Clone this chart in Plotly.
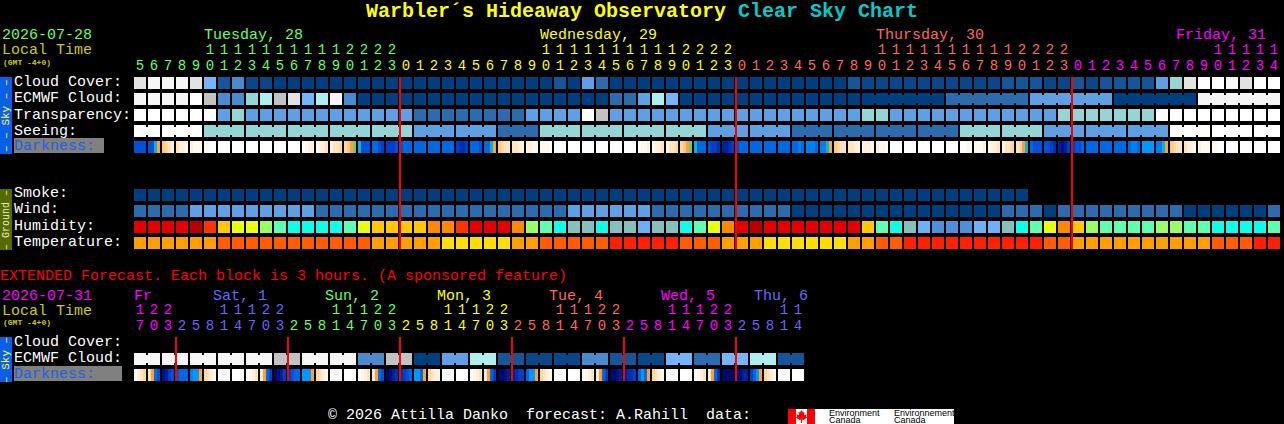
import plotly.graph_objects as go

W, H = 1284, 424

# ---------- palettes (levels used by the data below) ----------
cloud_colors = ["#003f7f", "#0a4788", "#165698", "#2c6bae", "#4a8bd0", "#5f9fe4", "#75b4f8",
                "#95d5d5", "#aeeeee", "#c2c2c2", "#e2e2e2", "#f6f6f6", "#ffffff"]
humidity_colors = ["#b80000", "#e50000", "#ff3300", "#ff8800", "#ffc800", "#eaff10", "#9aff66",
                   "#5effb0", "#0dffe9", "#86c0bc", "#70aef8", "#4d8fd8"]
temperature_colors = ["#ffdf00", "#ffa000", "#ff5d00", "#ff2000"]
darkness_colors = {"W": "#ffffff", "a": "#fff8ee", "c": "#fff0dc", "d": "#ffe4c0", "e": "#ffd8a0",
                   "f": "#ffc878", "o": "#ffa030", "g": "#7fc080", "t": "#10b0d0", "S": "#0098ff",
                   "B": "#0080f0", "b": "#0068e0", "m": "#0050d8", "n": "#0040c8", "p": "#0030b0",
                   "q": "#002098", "N": "#001080", "k": "#000868"}

# ---------- data ----------
main_hours = [5, 6, 7, 8, 9, 10, 11, 12, 13, 14, 15, 16, 17, 18, 19, 20, 21, 22, 23,
              0, 1, 2, 3, 4, 5, 6, 7, 8, 9, 10, 11, 12, 13, 14, 15, 16, 17, 18, 19, 20, 21, 22, 23,
              0, 1, 2, 3, 4, 5, 6, 7, 8, 9, 10, 11, 12, 13, 14, 15, 16, 17, 18, 19, 20, 21, 22, 23,
              0, 1, 2, 3, 4, 5, 6, 7, 8, 9, 10, 11, 12, 13, 14]
ext_hours = [17, 20, 23,
             2, 5, 8, 11, 14, 17, 20, 23,
             2, 5, 8, 11, 14, 17, 20, 23,
             2, 5, 8, 11, 14, 17, 20, 23,
             2, 5, 8, 11, 14, 17, 20, 23,
             2, 5, 8, 11, 14, 17, 20, 23,
             2, 5, 8, 11, 14]

main_day_labels = ["Tuesday, 28", "Wednesday, 29", "Thursday, 30", "Friday, 31"]
ext_day_labels = ["Fr", "Sat, 1", "Sun, 2", "Mon, 3", "Tue, 4", "Wed, 5", "Thu, 6"]

cloud_cover = [10, 11, 11, 11, 10, 6, 2, 4, 1, 1,
               0, 0, 0, 0, 0, 0, 0, 0, 0, 0,
               0, 0, 0, 0, 0, 0, 0, 0, 0, 0,
               2, 0, 5, 3, 0, 0, 0, 0, 0, 0,
               0, 0, 0, 0, 0, 0, 0, 0, 0, 0,
               0, 2, 1, 1, 1, 1, 1, 1, 1, 1,
               1, 1, 2, 2, 2, 1, 1, 2, 1, 2,
               2, 2, 2, 5, 7, 10, 12, 12, 11, 10, 12, 12]
ecmwf_cloud = [11, 11, 11, 11, 12, 9, 4, 4, 7, 8,
               9, 10, 6, 8, 11, 4, 0, 0, 0, 0,
               0, 0, 0, 0, 0, 0, 0, 0, 0, 0,
               0, 0, 0, 0, 3, 3, 5, 8, 6, 0,
               0, 0, 0, 0, 0, 0, 0, 0, 0, 0,
               0, 0, 0, 0, 0, 0, 0, 0, 3, 3,
               3, 3, 3, 3, 5, 5, 5, 5, 5, 5,
               0, 0, 0, 0, 0, 0, 11, 11, 11, 11, 11, 11]
ecmwf_blocks = [1] * 52 + [6] * 5
transparency = [12, 12, 12, 12, 12, 12, 5, 7, 5, 5,
                5, 5, 5, 5, 5, 5, 5, 5, 5, 5,
                3, 3, 3, 3, 3, 3, 3, 3, 5, 5,
                5, 5, 12, 9, 5, 5, 5, 5, 5, 5,
                5, 5, 5, 5, 5, 5, 5, 5, 5, 5,
                5, 5, 7, 7, 5, 5, 5, 5, 5, 5,
                5, 5, 5, 5, 5, 5, 7, 7, 7, 7,
                7, 7, 7, 12, 12, 12, 12, 12, 12, 12, 12, 12]
seeing = [12, 12, 12, 12, 12, 7, 7, 7, 7, 7,
          7, 7, 7, 7, 7, 7, 7, 7, 7, 7,
          5, 5, 5, 5, 5, 5, 3, 3, 3, 7,
          7, 7, 7, 7, 7, 7, 7, 7, 7, 7,
          7, 5, 5, 5, 5, 5, 5, 3, 3, 3,
          3, 3, 3, 3, 3, 3, 3, 3, 3, 7,
          7, 7, 7, 7, 7, 5, 5, 5, 5, 5,
          5, 5, 5, 5, 12, 12, 12, 12, 12, 12, 12, 12]
seeing_blocks = [2] + [3] * 26 + [2]
darkness = ["mmmm", "mmto", "fedc", "dcca", "caaa", "aaWW", "WWWW", "WWWW", "WWWW", "WWWW",
            "WWWW", "WWWW", "Wacc", "accd", "cdde", "efog", "tmmm", "bbmn", "nnnm", "mbbb",
            "bbbb", "bbbb", "bbbb", "nppn", "bbbm", "bbto", "fedd", "ddcc", "ccaa", "aaaW",
            "WWWW", "WWWW", "WWWW", "WWWW", "WWWW", "WWWW", "Waac", "accd", "cdde", "efog",
            "tbbb", "mnnp", "qqpn", "mbbb", "bbbb", "bbbb", "bbbb", "bbBb", "BBBb", "BBto",
            "fedd", "ddcc", "ccca", "caaW", "WWWW", "WWWW", "WWWW", "WWWW", "WWWW", "WWaa",
            "aaac", "accd", "cdde", "deot", "bmmm", "mmnp", "qNqn", "nmmb", "bbbb", "bbbb",
            "bbbb", "bBBb", "SSSS", "BBto", "fedd", "dcca", "caaa", "aaWW", "WWWW", "WWWW",
            "WWWW", "WWWW"]
smoke = [0] * 64 + [None] * 18
wind = [3, 3, 3, 3, 5, 5, 5, 5, 5, 5,
        5, 5, 5, 3, 3, 3, 3, 3, 3, 3,
        3, 3, 3, 3, 3, 3, 3, 3, 3, 3,
        3, 5, 5, 5, 5, 5, 5, 3, 3, 3,
        3, 3, 3, 3, 3, 3, 3, 0, 0, 0,
        0, 0, 0, 0, 0, 0, 0, 0, 0, 0,
        0, 0, 3, 3, 3, 0, 3, 3, 3, 3,
        3, 3, 3, 3, 3, 0, 0, 0, 0, 0, 0, 3]
humidity = [1, 1, 1, 1, 0, 2, 4, 5, 5, 6,
            7, 8, 8, 8, 8, 7, 5, 4, 4, 4,
            4, 3, 3, 2, 1, 1, 1, 3, 6, 7,
            8, 9, 9, 8, 9, 9, 10, 9, 9, 8,
            7, 5, 3, 1, 0, 1, 1, 1, 1, 1,
            1, 1, 4, 7, 8, 9, 10, 11, 11, 11,
            10, 10, 9, 8, 7, 5, 3, 4, 6, 7,
            7, 7, 7, 6, 6, 7, 7, 8, 8, 8, 8, 7]
temperature = [1, 1, 1, 1, 1, 1, 2, 2, 2, 2,
               2, 2, 2, 2, 2, 2, 2, 1, 1, 1,
               1, 1, 0, 0, 0, 0, 0, 1, 1, 2,
               2, 2, 2, 2, 3, 3, 3, 3, 3, 2,
               2, 2, 1, 1, 1, 0, 0, 0, 0, 0,
               0, 1, 1, 2, 2, 3, 3, 3, 3, 3,
               3, 3, 3, 3, 3, 2, 2, 1, 1, 1,
               1, 1, 1, 1, 1, 1, 1, 2, 2, 2, 3, 3]

ext_ecmwf = [11, 11, 11, 11, 11, 11, 11, 11, 11, 11, 9, 9, 11, 11, 11, 11,
             4, 4, 9, 9, 0, 0, 5, 5, 8, 8, 2, 2, 1, 1, 1, 1,
             4, 4, 2, 2, 1, 1, 6, 6, 3, 3, 6, 6, 8, 8, 2, 2]
ext_ecmwf_blocks = [2] * 24
ext_darkness = ["Wcde", "dobm", "Nqnm", "mbbb", "BSSo", "edca", "WWWW", "WWWW",
                "Wacd", "cobn", "kNqn", "nmbb", "SSSo", "edca", "WWWW", "WWWW",
                "Wacd", "cobm", "kNqp", "pnmb", "SSbo", "edcc", "WWWW", "WWWW",
                "Wacd", "cobn", "kkNq", "qpnn", "bSSo", "edca", "WWWW", "WWWW",
                "Wacd", "cobn", "kkNq", "qppn", "bSbo", "edca", "WWWW", "WWWW",
                "Wacd", "cobp", "kkkk", "NNqq", "nbSo", "edca", "WWWW", "WWWW"]

# ---------- scales: one axis unit is one cell slot across, one row down ----------
CELL_PX, ROW_PX = 14, 16
X0_PX, Y0_PX = 140, 83      # pixel centre of cell 0 / row 0
HALF_W, HALF_H = 6 / CELL_PX, 6 / ROW_PX
NOTCH = 4 / ROW_PX

palette = cloud_colors + humidity_colors + temperature_colors + list(darkness_colors.values())
N = len(palette)
colorscale = []
for k, c in enumerate(palette):
    colorscale += [[k / N, c], [(k + 1) / N, c]]
HUM0, TEMP0, DARK0 = len(cloud_colors), len(cloud_colors) + len(humidity_colors), \
    len(cloud_colors) + len(humidity_colors) + len(temperature_colors)
dark_index = {key: DARK0 + k for k, key in enumerate(darkness_colors)}

fig = go.Figure()


def heat(xe, ye, z):
    fig.add_trace(go.Heatmap(x=xe, y=ye, z=z, zmin=0, zmax=N, colorscale=colorscale, showscale=False,
                             hoverinfo="skip", xgap=0, ygap=0))


def add_level_row(values, row, offset=0, blocks=None):
    n = len(values)
    joined = set()
    if blocks:
        start = 0
        for b in blocks:
            joined.update(range(start, start + b - 1))
            start += b
    xe = []
    for i, v in enumerate(values):
        xe += [i - HALF_W, i + HALF_W]
    outer, middle = [], []
    for i, v in enumerate(values):
        val = None if v is None else offset + v + 0.5
        outer.append(val)
        middle.append(val)
        if i < n - 1:
            outer.append(None)
            middle.append(val if i in joined else None)
    ye = [row - HALF_H, row - NOTCH, row + NOTCH, row + HALF_H]
    heat(xe, ye, [outer, middle, outer])


def add_sample_row(samples, row):
    xe, z = [], []
    for i, s in enumerate(samples):
        m = len(s)
        for k in range(m):
            xe.append(i - HALF_W + 2 * HALF_W * k / m)
            z.append(dark_index[s[k]] + 0.5)
        xe.append(i + HALF_W)
        if i < len(samples) - 1:
            z.append(None)
    heat(xe, [row - HALF_H, row + HALF_H], [z])


add_level_row(cloud_cover, 0)
add_level_row(ecmwf_cloud, 1, blocks=ecmwf_blocks)
add_level_row(transparency, 2)
add_level_row(seeing, 3, blocks=seeing_blocks)
add_sample_row(darkness, 4)
add_level_row(smoke, 7)
add_level_row(wind, 8)
add_level_row(humidity, 9, HUM0)
add_level_row(temperature, 10, TEMP0)
add_level_row(ext_ecmwf, 17.25, blocks=ext_ecmwf_blocks)
add_sample_row(ext_darkness, 18.25)

# ---------- hour labels ----------
FONT = "Liberation Mono"
GREEN, YELLOW, SALMON, MAGENTA, BLUE = "#66ff66", "#ffff00", "#ff6666", "#ff00ff", "#6666ff"


def hour_text(hours, day_colors, ones_row, tens_row):
    colors, d = [], 0
    for i, h in enumerate(hours):
        if i and h < hours[i - 1]:
            d += 1
        colors.append(day_colors[d])
    xs = list(range(len(hours)))
    fig.add_trace(go.Scatter(x=xs, y=[ones_row] * len(hours), mode="text", text=[str(h % 10) for h in hours],
                             textfont=dict(family=FONT, size=14, color=colors), hoverinfo="skip",
                             textposition="middle center", cliponaxis=False))
    fig.add_trace(go.Scatter(x=xs, y=[tens_row] * len(hours), mode="text",
                             text=[str(h // 10) if h >= 10 else "" for h in hours],
                             textfont=dict(family=FONT, size=14, color=colors), hoverinfo="skip",
                             textposition="middle center", cliponaxis=False))


hour_text(main_hours, [GREEN, YELLOW, SALMON, MAGENTA], -1.0625, -2.0625)
hour_text(ext_hours, [MAGENTA, BLUE, GREEN, YELLOW, SALMON, MAGENTA, BLUE], 15.1875, 14.1875)


# ---------- midnight lines ----------
def midnight_line(hours, top, bottom):
    xs, ys = [], []
    for i in range(1, len(hours)):
        if hours[i] < hours[i - 1]:
            xs += [i - HALF_W, i - HALF_W, None]
            ys += [top - HALF_H, bottom + HALF_H, None]
    fig.add_trace(go.Scatter(x=xs, y=ys, mode="lines", line=dict(color="#ff0000", width=2), hoverinfo="skip"))


midnight_line(main_hours, 0, 10)
midnight_line(ext_hours, 16.25, 18.25)

# ---------- text and furniture, positioned in page pixels ----------
annotations, shapes = [], []


def label(text, px, py, color="#ffffff", size=15, family=FONT, anchor="left", angle=0):
    annotations.append(dict(text=text, x=px / W, y=1 - py / H, xref="paper", yref="paper", showarrow=False,
                            xanchor=anchor, yanchor="middle", textangle=angle, borderpad=0, borderwidth=0,
                            font=dict(family=family, size=size, color=color)))


def rect(x0, y0, x1, y1, color):
    shapes.append(dict(type="rect", xref="paper", yref="paper", x0=x0 / W, x1=x1 / W, y0=1 - y0 / H, y1=1 - y1 / H,
                       fillcolor=color, line=dict(width=0), layer="below"))


label("<b>Warbler´s Hideaway Observatory</b>", 366, 12, YELLOW, 20)
label("<b>Clear Sky Chart</b>", 738, 12, "#00cccc", 20)

label("2026-07-28", 2, 35.5, GREEN)
label("Local Time", 2, 50.5, "#cccc00")
label("<b>(GMT -4+0)</b>", 3, 62, "#cccc00", 8)
for text, px, c in zip(main_day_labels, [204, 540, 876, 1176], [GREEN, YELLOW, SALMON, MAGENTA]):
    label(text, px, 35.5, c)

rect(0, 77, 12, 154, "#0a5fe8")
label("– – Sky – –", 6, 116, "#ffff33", 11, angle=-90, anchor="center")
for text, py in zip(["Cloud Cover:", "ECMWF Cloud:", "Transparency:", "Seeing:"], [82, 98, 115, 131]):
    label(text, 14, py, "#ffffff")
rect(14, 138, 104, 153, "#808080")
label("Darkness:", 14, 146, "#2060e0")

rect(0, 189, 12, 250, "#556b00")
label("– Ground –", 6, 220, "#eeeecc", 10, angle=-90, anchor="center")
for text, py in zip(["Smoke:", "Wind:", "Humidity:", "Temperature:"], [194, 210, 226, 242]):
    label(text, 14, py, "#ffffff")

label("EXTENDED Forecast. Each block is 3 hours. (A sponsored feature)", 0, 276, "#ff0000")
label("2026-07-31", 2, 296, MAGENTA)
label("Local Time", 2, 311, "#cccc00")
label("<b>(GMT -4+0)</b>", 3, 322, "#cccc00", 8)
for text, px, c in zip(ext_day_labels, [134, 213, 325, 437, 549, 661, 754],
                       [MAGENTA, BLUE, GREEN, YELLOW, SALMON, MAGENTA, BLUE]):
    label(text, px, 296, c)

rect(0, 337, 12, 382, "#0a5fe8")
label("– Sky –", 6, 360, "#ffff33", 11, angle=-90, anchor="center")
label("Cloud Cover:", 14, 342)
label("ECMWF Cloud:", 14, 358)
rect(14, 366, 122, 381, "#808080")
label("Darkness:", 14, 374, "#2060e0")

label("© 2026 Attilla Danko  forecast: A.Rahill  data:", 328, 415, "#ffffff")

# Environment Canada logo
rect(788, 409, 954, 424, "#ffffff")
rect(788, 409, 796, 424, "#ff0000")
rect(807, 409, 815, 424, "#ff0000")
leaf = [(801.5, 410), (803, 412.5), (804.5, 412), (804, 415), (806.5, 414.5), (806, 416.5), (807, 417.5),
        (803.5, 420), (802, 419.5), (802, 423), (801, 423), (801, 419.5), (799.5, 420), (796, 417.5),
        (797, 416.5), (796.5, 414.5), (799, 415), (798.5, 412), (800, 412.5)]
path = "M" + " L".join(f"{x / W:.5f},{1 - y / H:.5f}" for x, y in leaf) + " Z"
shapes.append(dict(type="path", xref="paper", yref="paper", path=path, fillcolor="#ff0000", line=dict(width=0)))
for text, px, py in [("Environment", 829, 413), ("Canada", 829, 420), ("Environnement", 894, 413), ("Canada", 894, 420)]:
    label(text, px, py, "#000000", 9, "Liberation Sans")

x_range = [-X0_PX / CELL_PX, (W - X0_PX) / CELL_PX]
y_range = [(H - Y0_PX) / ROW_PX, -Y0_PX / ROW_PX]
fig.update_layout(width=W, height=H, margin=dict(l=0, r=0, t=0, b=0, pad=0), showlegend=False,
                  paper_bgcolor="#000000", plot_bgcolor="#000000",
                  xaxis=dict(visible=False, range=x_range, fixedrange=True),
                  yaxis=dict(visible=False, range=y_range, fixedrange=True),
                  annotations=annotations, shapes=shapes)

fig.write_html("out.html", config=dict(displayModeBar=False),
               post_script="document.body.style.margin='0';document.body.style.background='#000';document.body.style.overflow='hidden';")
